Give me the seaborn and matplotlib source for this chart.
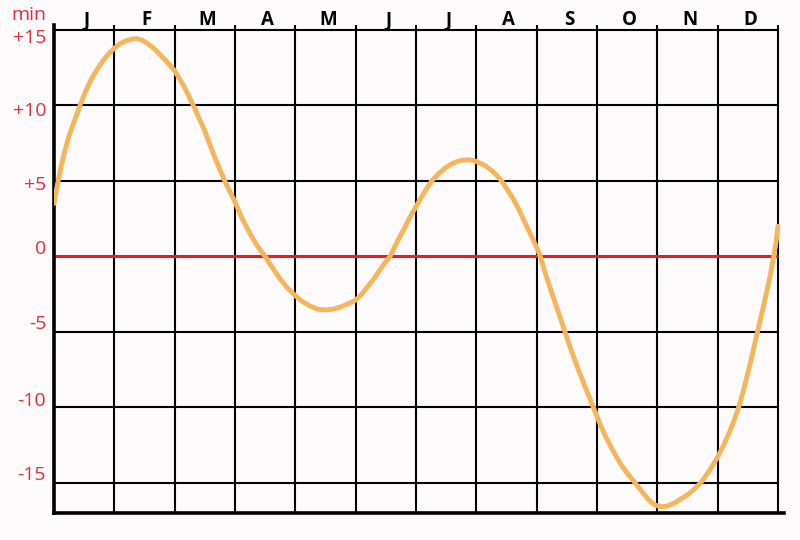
import pandas as pd
import matplotlib
matplotlib.use("Agg")
import matplotlib.pyplot as plt
import seaborn as sns

# month letters, written between the grid lines
months = ["J", "F", "M", "A", "M", "J", "J", "A", "S", "O", "N", "D"]

# curve: position in months (0 = 1 Jan) and minutes
curve_x = [0.00, 0.03, 0.07, 0.12, 0.18, 0.25, 0.34, 0.43, 0.52, 0.60, 0.70, 0.80,
           0.90, 1.00, 1.10, 1.20, 1.30, 1.37, 1.45, 1.55, 1.65, 1.75, 1.87, 2.00,
           2.15, 2.31, 2.50, 2.65, 2.83, 3.00, 3.12, 3.25, 3.37, 3.50, 3.62, 3.75,
           3.87, 4.00, 4.12, 4.25, 4.37, 4.49, 4.62, 4.75, 4.87, 5.00, 5.10, 5.20,
           5.30, 5.40, 5.48, 5.57, 5.68, 5.80, 5.90, 6.00, 6.13, 6.26, 6.38, 6.50,
           6.60, 6.70, 6.78, 6.87, 6.96, 7.05, 7.15, 7.25, 7.33, 7.42, 7.50, 7.60,
           7.70, 7.80, 7.90, 8.00, 8.06, 8.15, 8.25, 8.36, 8.47, 8.58, 8.70, 8.82,
           8.94, 9.05, 9.15, 9.27, 9.40, 9.52, 9.63, 9.75, 9.85, 9.95, 10.07, 10.18,
           10.30, 10.40, 10.50, 10.62, 10.74, 10.87, 11.00, 11.10, 11.20, 11.27, 11.34,
           11.42, 11.50, 11.58, 11.66, 11.73, 11.80, 11.87, 11.93, 11.97, 12.00]
curve_y = [3.5, 4.2, 5.0, 6.0, 7.0, 8.0, 9.0, 10.0, 10.9, 11.6, 12.3, 12.9,
           13.4, 13.8, 14.1, 14.3, 14.4, 14.42, 14.35, 14.1, 13.8, 13.4, 12.9, 12.3,
           11.3, 10.0, 8.3, 6.7, 5.0, 3.6, 2.5, 1.5, 0.7, 0.0, -0.75, -1.5,
           -2.1, -2.6, -3.0, -3.3, -3.5, -3.55, -3.5, -3.35, -3.15, -2.9, -2.5, -2.0,
           -1.5, -0.9, -0.45, 0.0, 0.9, 1.8, 2.6, 3.3, 4.2, 5.0, 5.5, 5.9,
           6.15, 6.3, 6.38, 6.4, 6.35, 6.2, 6.0, 5.7, 5.4, 5.0, 4.5, 3.9,
           3.15, 2.3, 1.45, 0.6, 0.0, -1.2, -2.4, -3.7, -5.0, -6.3, -7.6, -8.8,
           -10.0, -11.1, -12.0, -12.9, -13.8, -14.45, -15.0, -15.6, -16.1, -16.45, -16.6, -16.52,
           -16.3, -16.05, -15.8, -15.4, -14.9, -14.15, -13.3, -12.5, -11.6, -10.9, -10.1,
           -9.0, -7.75, -6.4, -5.0, -3.8, -2.6, -1.3, 0.0, 1.0, 2.0]

# y grid and its labels
y_ticks = [15, 10, 5, 0, -5, -10, -15]
y_labels = ["+15", "+10", "+5", "0", "-5", "-10", "-15"]

df = pd.DataFrame({"month": curve_x, "minutes": curve_y})

sns.set_theme(style="white")
plt.rcParams["font.family"] = ["Open Sans", "DejaVu Sans"]

red = "#e2303a"
bg = "#fcfafb"

fig = plt.figure(figsize=(8, 5.4), dpi=100, facecolor=bg)
ax = fig.add_axes([0.0675, 0.05, 0.9125, 0.9037])
ax.set_facecolor(bg)
ax.set_xlim(0, 12.1)
ax.set_ylim(-17.0, 15.33)

# grid
ax.vlines(range(1, 13), -17.0, 15.33, color="black", lw=1.5, zorder=1)
ax.hlines([v for v in y_ticks if v != 0], 0, 12, color="black", lw=1.5, zorder=1)
ax.hlines(0, 0, 12, color="#e8201c", lw=2.2, zorder=2)

sns.lineplot(data=df, x="month", y="minutes", ax=ax, color="#f5b55a", lw=3.5,
             zorder=3, solid_capstyle="round", solid_joinstyle="round")

# month letters above the plot
for i, m in enumerate(months):
    ax.text(i + 0.54, 15.33 + 0.33, m, ha="center", va="center", fontsize=13.5,
            fontweight="bold", color="black", clip_on=False)

# red minute labels, nudged off the lines
offsets = [-0.55, -0.4, -0.3, 0.5, 0.5, 0.45, 0.5]
for v, lab, off in zip(y_ticks, y_labels, offsets):
    ax.text(-0.13, v + off, lab, ha="right", va="center", fontsize=14, color=red)
ax.text(-0.13, 15.33 + 0.65, "min", ha="right", va="center", fontsize=14, color=red)

ax.set_xticks([])
ax.set_yticks([])
ax.set_xlabel("")
ax.set_ylabel("")
for side in ["top", "right"]:
    ax.spines[side].set_visible(False)
for side in ["left", "bottom"]:
    ax.spines[side].set_color("black")
    ax.spines[side].set_linewidth(2.6)

fig.savefig("out.png", dpi=100, facecolor=bg)
